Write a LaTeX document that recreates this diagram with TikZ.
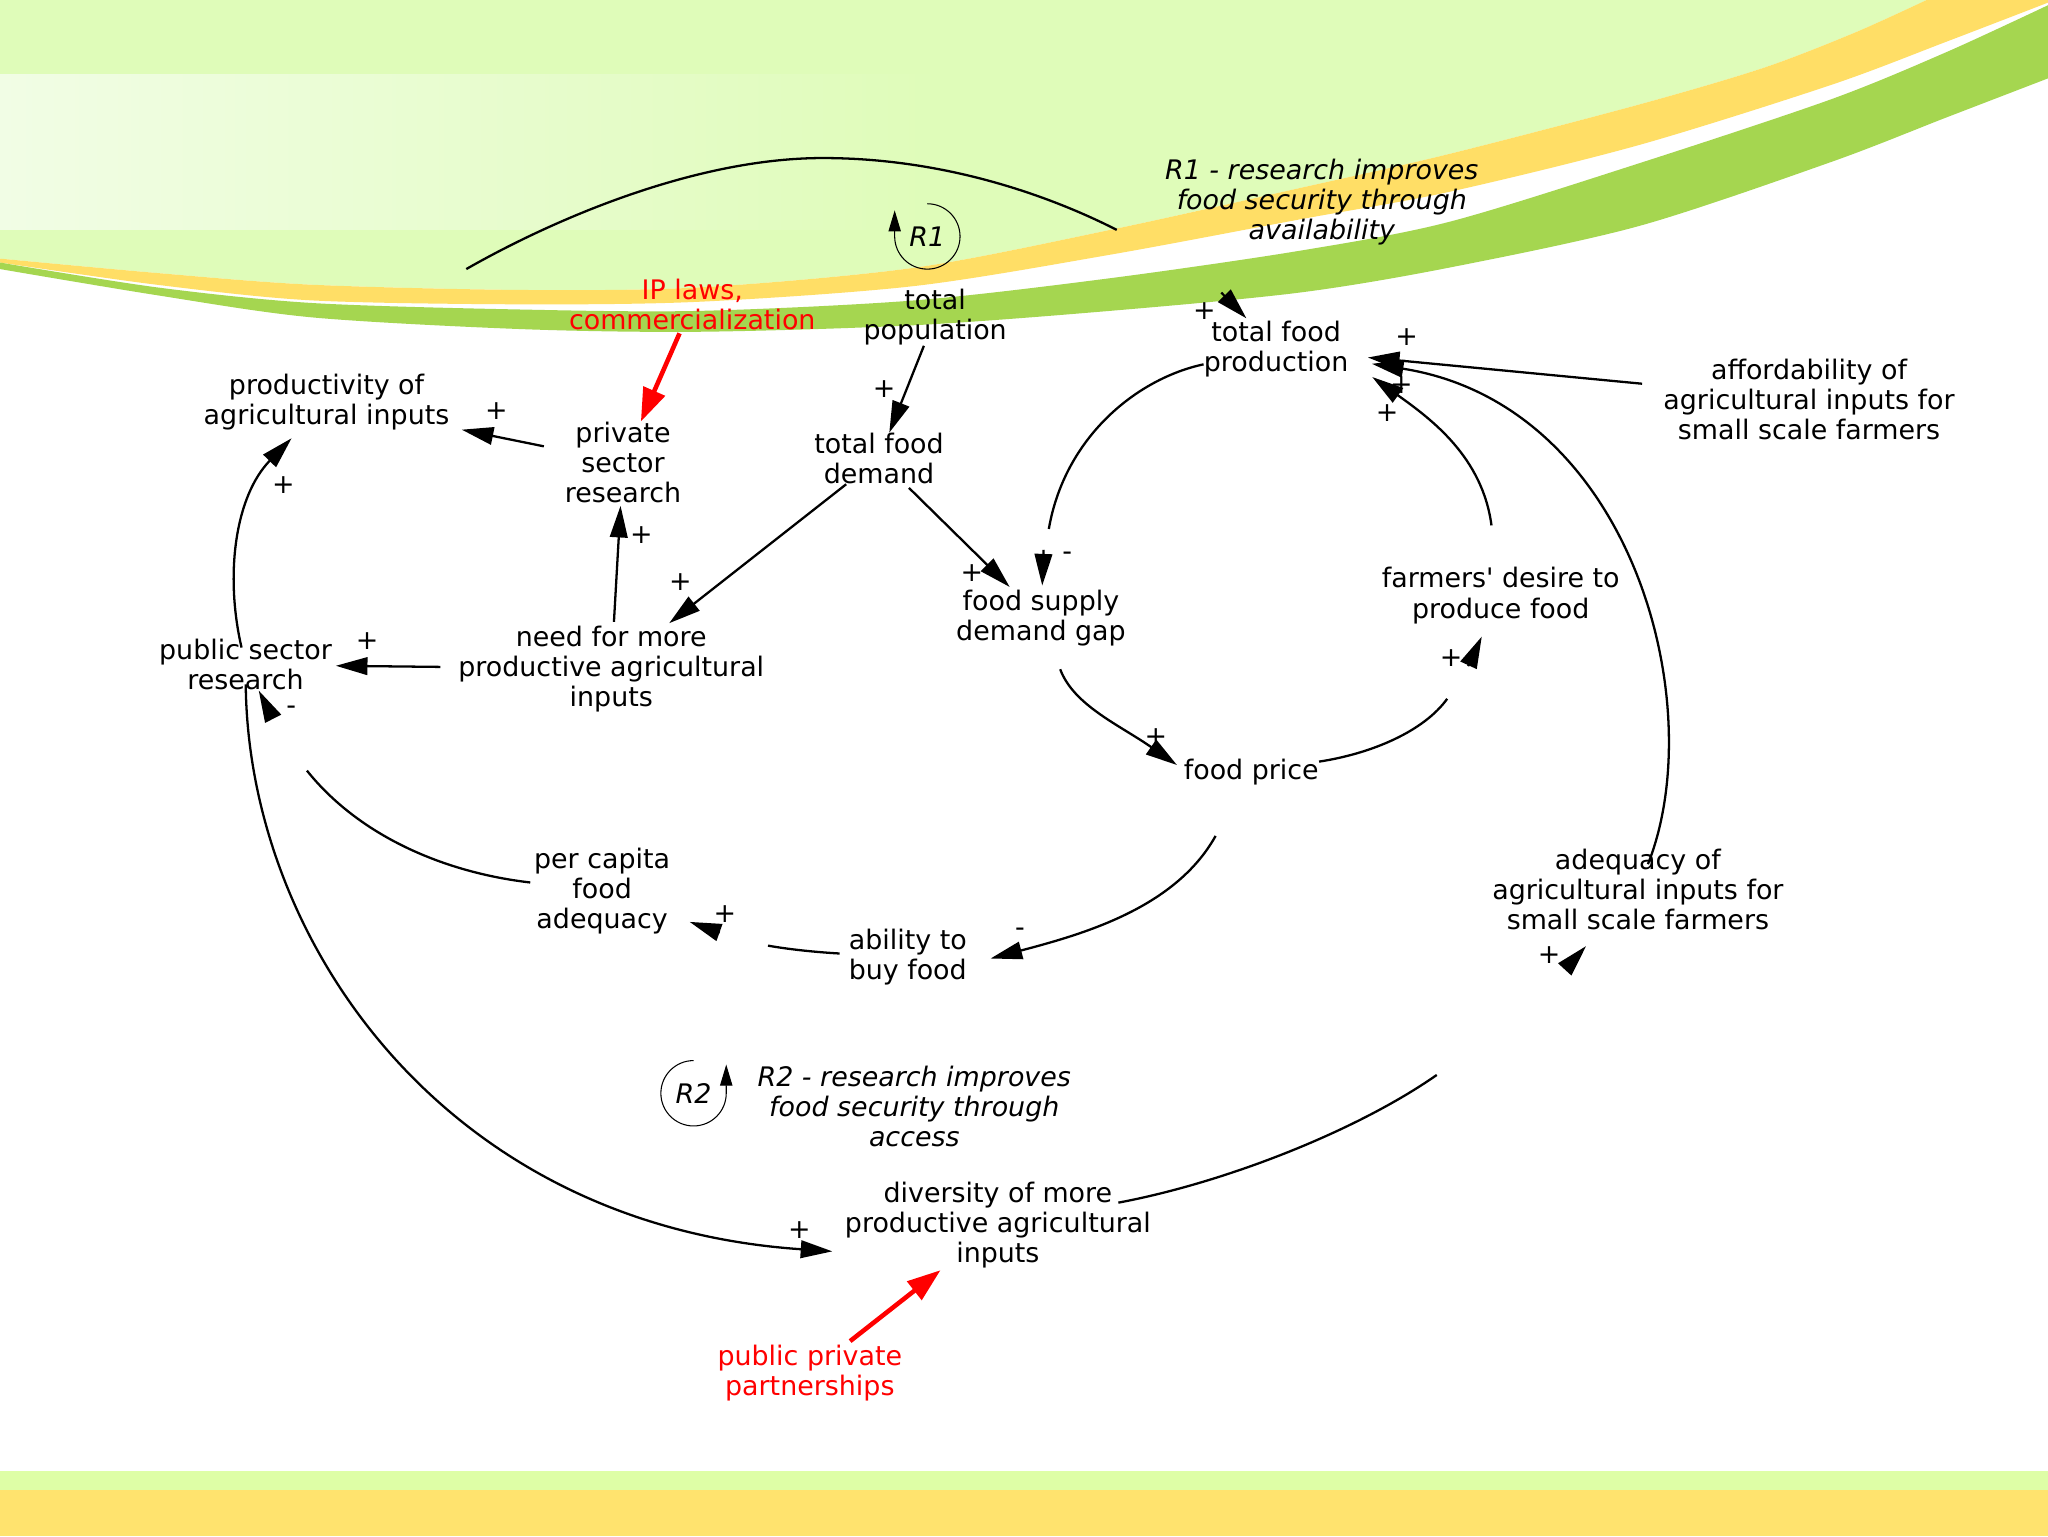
\documentclass[tikz,border=0pt]{standalone}
\usepackage{fontspec}
\setmainfont{DejaVu Sans}
\usepackage{tikz}
\usetikzlibrary{positioning, shapes, arrows.meta}
\usetikzlibrary{calc}
\usepackage{xcolor}

\definecolor{bgtop}{RGB}{223,252,185}
\definecolor{bglight}{RGB}{241,253,229}
\definecolor{swyellow}{RGB}{255,222,102}
\definecolor{swgreen}{RGB}{165,214,80}
\definecolor{footgreen}{RGB}{222,254,166}
\definecolor{footyellow}{RGB}{255,227,110}

\begin{document}
\begin{tikzpicture}[
  x=0.02612cm, y=-0.02612cm,
  var/.style={align=center, inner sep=0pt, font=\fontsize{15.3}{17.1}\selectfont},
  lever/.style={var, text=red},
  loopname/.style={var, font=\fontsize{15.3}{17.1}\selectfont\itshape},
  pol/.style={inner sep=0pt, font=\fontsize{15.3}{17.1}\selectfont},
  link/.style={draw, line width=1.3pt, -{Triangle[length=18pt, width=10pt]}},
  shaft/.style={draw, line width=1.3pt},
  push/.style={draw=red, line width=2.6pt, -{Triangle[length=19pt, width=13pt]}},
  loopsym/.style={draw, line width=0.6pt, -{Triangle[length=12pt, width=7pt]}}
]

% === BACKGROUND ===
\useasboundingbox (0,0) rectangle (1568,1176);
\fill[white] (0,0) rectangle (1568,1176);
\fill[bgtop] (0,0) -- plot[smooth] coordinates {(0,198) (120,209) (239,218) (400,222) (536,220) (700,205) (850,176) (995,144) (1109,118) (1255,80) (1350,52) (1420,25) (1475,0)} -- cycle;
\shade[left color=bglight, right color=bgtop] (0,57) rectangle (720,176);
\fill[swyellow] plot[smooth] coordinates {(0,198) (120,209) (239,218) (400,222) (536,220) (700,205) (850,176) (995,144) (1109,118) (1255,80) (1350,52) (1420,25) (1475,0)}
  -- (1568,0) -- plot[smooth] coordinates {(1568,2) (1490,32) (1402,65) (1255,111) (1109,147) (995,168) (850,195) (700,219) (536,231) (400,233) (239,230) (120,218) (0,201)} -- cycle;
\fill[swgreen] plot[smooth] coordinates {(0,201) (120,220) (239,232) (400,237) (536,238) (700,230) (850,213) (995,192) (1109,170) (1255,125) (1402,76) (1490,40) (1568,4)}
  -- plot[smooth] coordinates {(1568,60) (1490,90) (1402,124) (1255,173) (1109,205) (995,224) (850,238) (700,249) (536,254) (400,252) (239,243) (120,226) (0,206)} -- cycle;
\fill[footgreen] (0,1126) rectangle (1568,1141);
\fill[footyellow] (0,1141) rectangle (1568,1176);

% === VARIABLES ===
\node[var] (prod) at (250,308) {productivity of\\agricultural inputs};
\node[var] (privres) at (477,354) {private\\sector\\research};
\node[lever] (iplaws) at (530,233) {IP laws,\\commercialization};
\node[var] (pop) at (716,243) {total\\population};
\node[var] (demand) at (673,351) {total food\\demand};
\node[var] (need) at (468,512) {need for more\\productive agricultural\\inputs};
\node[var] (pubres) at (188,509) {public sector\\research};
\node[var] (gap) at (797,473) {food supply\\demand gap};
\node[var] (prodn) at (977,267) {total food\\production};
\node[var] (afford) at (1385,306) {affordability of\\agricultural inputs for\\small scale farmers};
\node[var] (desire) at (1149,456) {farmers\textquotesingle{} desire to\\produce food};
\node[var] (price) at (958,591) {food price};
\node[var] (percap) at (461,682) {per capita\\food\\adequacy};
\node[var] (ability) at (695,733) {ability to\\buy food};
\node[var] (adequacy) at (1254,681) {adequacy of\\agricultural inputs for\\small scale farmers};
\node[var] (diversity) at (764,938) {diversity of more\\productive agricultural\\inputs};
\node[lever] (ppp) at (620,1051) {public private\\partnerships};

% === LOOPS ===
\node[loopname] (loopR1) at (1012,155) {R1 - research improves\\food security through\\availability};
\node[loopname] (loopR2) at (700,847) {R2 - research improves\\food security through\\access};
\node[loopname] (r1) at (710,181) {R1};
\node[loopname] (r2) at (531,837) {R2};
\draw[loopsym] (r1.center) ++(0,-25) arc[start angle=90, end angle=-180, radius=18.6pt] -- ++(0,-20);
\draw[loopsym] (r2.center) ++(0,-25) arc[start angle=90, end angle=360, radius=18.6pt] -- ++(0,-22);

% === STRAIGHT LINKS ===
\draw[link] (pop) -- (demand);
\draw[link, shorten <=12pt, shorten >=7pt] (privres) -- (prod);
\draw[link, shorten <=2pt, shorten >=1.5pt] (need) -- (privres);
\draw[link, shorten >=2pt] (demand) -- (need);
\draw[link, shorten <=3pt, shorten >=2pt] (demand) -- (gap);
\draw[link, shorten <=10pt, shorten >=2pt] (need) -- (pubres);
\draw[link, shorten <=12pt, shorten >=11pt] (afford) -- (prodn);
\draw[push, shorten <=2pt] (iplaws) -- (privres);
\draw[push, shorten <=3pt, shorten >=1.5pt] (ppp) -- (diversity);

% === CURVED LINKS ===
\draw[link, shorten <=-5pt, shorten >=6pt] (pubres) .. controls (172,440) and (180,380) .. (prod);
\draw[link, shorten <=14pt, shorten >=4.5pt] (gap) .. controls (822,540) and (857,555) .. (price.178);
\draw[link, shorten <=24pt, shorten >=16.5pt] (desire) .. controls (1135,350) and (1096,321) .. (prodn.-9);
\draw[link, shorten <=-9.5pt, shorten >=13.4pt] (adequacy) .. controls (1310,540) and (1250,310) .. (prodn);
\draw[link, shorten <=-3.5pt, shorten >=7pt] (pubres) .. controls (190,720) and (340,938) .. (diversity.190);
\draw[link, shorten <=33pt, shorten >=13.8pt] (price) .. controls (900,695) and (830,715) .. (ability.-7);

% === BROKEN LINKS (shaft and head) ===
\coordinate (prodTail) at (357,206);
\coordinate (prodnTail) at (855,176);
\coordinate (prodnHead) at (935,224);
\draw[shaft] (prodTail) .. controls (420,170) and (530,121) .. (630,121) .. controls (720,121) and (800,148) .. (prodnTail);
\draw[link, shorten >=1.6pt] (prodnHead) -- (prodn);

\coordinate (gapTail) at (803,405);
\coordinate (gapHead) at (799,421);
\draw[shaft] (prodn) .. controls (870,290) and (815,335) .. (gapTail);
\draw[link, shorten >=2.2pt] (gapHead) -- (gap);

\coordinate (desireTail) at (1108,535);
\coordinate (desireHead) at (1124,510);
\draw[shaft] (price) .. controls (1050,577) and (1090,560) .. (desireTail);
\draw[link, shorten >=7.9pt] (desireHead) -- (desire);

\coordinate (adequacyTail) at (1100,823);
\coordinate (adequacyHead) at (1200,740);
\draw[shaft, shorten <=-19pt] (diversity) .. controls (940,905) and (1040,865) .. (adequacyTail);
\draw[link, shorten >=12.2pt] (adequacyHead) -- (adequacy);

\coordinate (percapTail) at (588,724);
\coordinate (percapHead) at (551,714);
\draw[shaft, shorten <=5pt] (ability) .. controls (625,729) and (605,727) .. (percapTail);
\draw[link, shorten >=11.6pt] (percapHead) -- (percap);

\coordinate (pubresTail) at (235,590);
\coordinate (pubresHead) at (209,550);
\draw[shaft, shorten <=2pt] (percap) .. controls (340,668) and (275,640) .. (pubresTail);
\draw[link] (pubresHead) -- (pubres);

% === POLARITIES ===
\node[pol] (sgnPopDem) at (677,298) {+};
\node[pol] (sgnPrivProd) at (380,315) {+};
\node[pol] (sgnNeedPriv) at (491,410) {+};
\node[pol] (sgnDemNeed) at (521,446) {+};
\node[pol] (sgnDemGap) at (744,439) {+};
\node[pol] (sgnNeedPub) at (281,491) {+};
\node[pol] (sgnPubProd) at (217,371) {+};
\node[pol] (sgnProdnGap) at (817,426) {-};
\node[pol] (sgnProdProdn) at (922,238) {+};
\node[pol] (sgnAfford) at (1077,258) {+};
\node[pol] (sgnAdequacy) at (1073,295) {+};
\node[pol] (sgnDesire) at (1062,316) {+};
\node[pol] (sgnGapPrice) at (885,564) {+};
\node[pol] (sgnPriceDesire) at (1111,504) {+};
\node[pol] (sgnPriceAbility) at (781,714) {-};
\node[pol] (sgnAbilityPercap) at (555,700) {+};
\node[pol] (sgnPercapPub) at (223,544) {-};
\node[pol] (sgnDivAdequacy) at (1186,731) {+};
\node[pol] (sgnPubDiv) at (612,942) {+};

\end{tikzpicture}
\end{document}
